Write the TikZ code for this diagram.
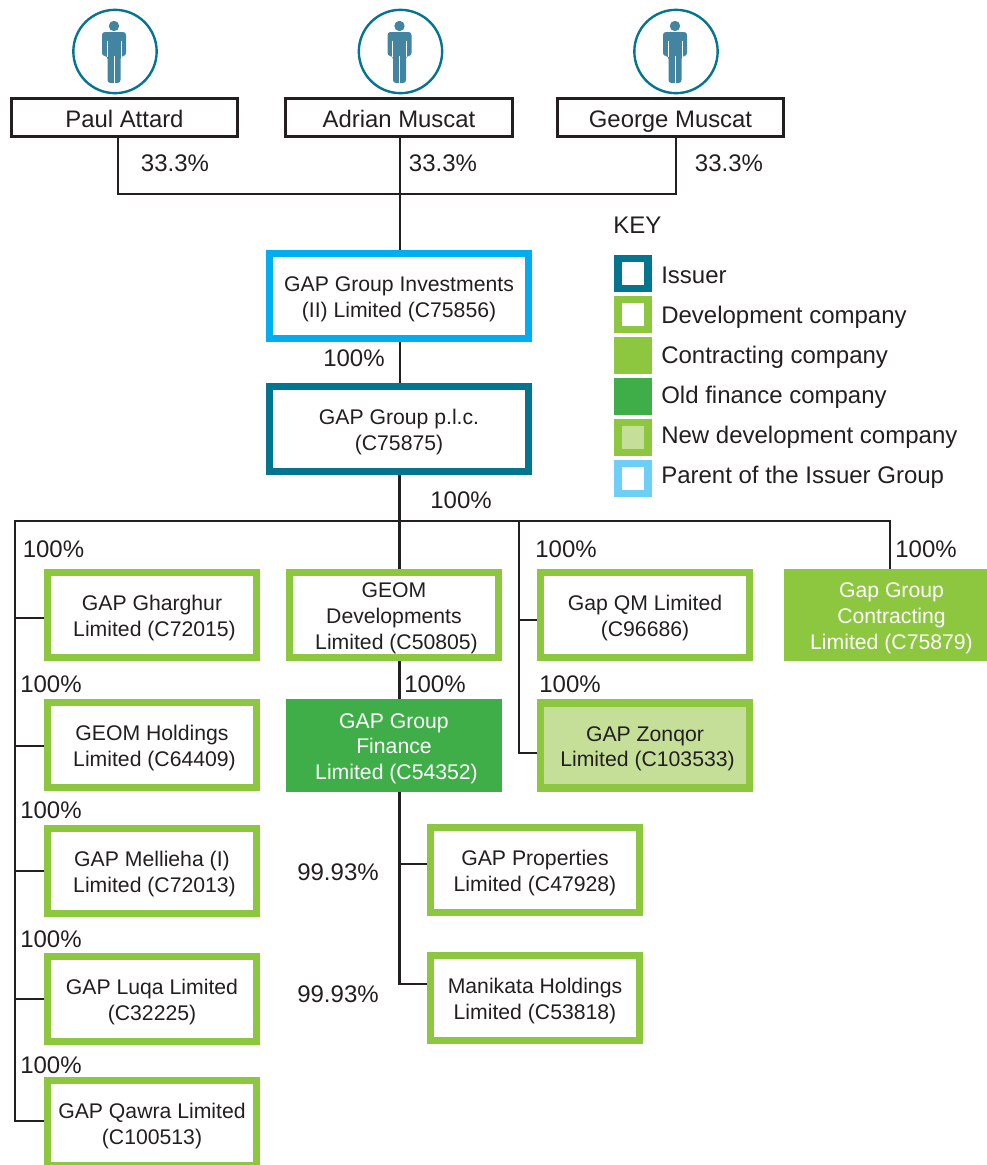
\documentclass[tikz,border=0pt]{standalone}
\usepackage{fontspec}
\setmainfont{Liberation Sans}
\definecolor{ink}{HTML}{231F20}
\definecolor{issuerc}{HTML}{04758E}
\definecolor{parentc}{HTML}{00AEEF}
\definecolor{parentk}{HTML}{6DCFF6}
\definecolor{devc}{HTML}{8DC63F}
\definecolor{oldc}{HTML}{3FAE49}
\definecolor{newc}{HTML}{C5DE98}
\definecolor{personc}{HTML}{4384A0}
\newcommand{\nudge}{\hspace*{3.8pt}}
\newcommand{\nudgeb}{\hspace*{9pt}}
\newcommand{\fl}{\rule{0pt}{16pt}}
\tikzset{
  line/.style={draw=ink,line width=2.2pt},
  cotext/.style={text=ink,font=\fontsize{15.9}{19.2}\selectfont,align=center,inner sep=0pt},
  ownerbox/.style={text=ink,font=\fontsize{17.9}{21}\selectfont,inner sep=0pt,draw=ink,fill=white,line width=2.2pt,minimum width=170pt,minimum height=28.5pt,text height=17.5pt,text depth=1.8pt},
  cobox/.style={cotext,line width=5.6pt,minimum width=156.4pt,minimum height=63.4pt,fill=white},
  devbox/.style={cobox,draw=devc},
  topbox/.style={cobox,minimum width=193.9pt},
  contractbox/.style={cotext,fill=devc,text=white,minimum width=152.25pt,minimum height=69pt},
  financebox/.style={cotext,fill=oldc,text=white,minimum width=162pt,minimum height=69.75pt},
  newbox/.style={cobox,draw=devc,fill=newc,minimum height=64pt},
  pct/.style={text=ink,font=\fontsize{18}{21}\selectfont,inner sep=0pt},
  keylabel/.style={text=ink,font=\fontsize{18}{21}\selectfont,inner sep=0pt,anchor=base west},
  keybox/.style={line width=5.6pt,minimum width=22.5pt,minimum height=22.5pt,inner sep=0pt,fill=white},
  personring/.style={circle,draw=issuerc,line width=1.8pt,minimum size=62.5pt,inner sep=0pt},
  pics/person/.style={code={
    \fill[personc] (-1,-25.5) circle[radius=5.2];
    \fill[personc,rounded corners=2.2pt] (-13,-19.5) -- (11,-19.5) -- (11,4.5) -- (8.5,4.5) -- (5.5,4.5) -- (5.5,31.5) -- (-7.5,31.5) -- (-7.5,4.5) -- (-13,4.5) -- cycle;
    \draw[white,line width=.6pt] (-1,4) -- (-1,32);
    \draw[white,line width=.6pt] (-8,-11) -- (-8,5) (6,-11) -- (6,5);
  }}
}
\begin{document}
\begin{tikzpicture}[x=.75pt,y=-.75pt]
\useasboundingbox (0,0) rectangle (987,1165);

% people
\node[personring] (ringA) at (115,51.5) {};
\node[personring] (ringB) at (400.5,51.5) {};
\node[personring] (ringC) at (676,51.5) {};
\pic at (ringA.center) {person};
\pic at (ringB.center) {person};
\pic at (ringC.center) {person};

% junction coordinates
\coordinate (ownerL) at (118,194);
\coordinate (ownerM) at (400,194);
\coordinate (ownerR) at (676,194);
\coordinate (busW) at (15,521);
\coordinate (busM) at (399.5,521);
\coordinate (busQ) at (519,521);
\coordinate (busE) at (890,521);
\coordinate (leftEnd) at (15,1121);
\coordinate (zonqorTurn) at (519,753);

\node[ownerbox] (paul) at (124.5,117.5) {Paul Attard};
\node[ownerbox] (adrian) at (399,117.5) {Adrian Muscat};
\node[ownerbox] (george) at (670.5,117.5) {George Muscat};

\node[topbox,draw=parentc] (parent) at (399,296) {\fl GAP Group Investments\\(II) Limited (C75856)};
\node[topbox,draw=issuerc] (plc) at (399,429) {\fl GAP Group p.l.c.\\(C75875)};

\node[devbox] (gharghur) at (152,615) {\fl GAP Gharghur\\\nudge Limited (C72015)};
\node[devbox] (holdings) at (152,745) {\fl GEOM Holdings\\\nudge Limited (C64409)};
\node[devbox] (mellieha) at (152,871) {\fl GAP Mellieha (I)\\\nudge Limited (C72013)};
\node[devbox] (luqa) at (152,999) {\fl GAP Luqa Limited\\(C32225)};
\node[devbox] (qawra) at (152,1123) {\fl GAP Qawra Limited\\(C100513)};
\node[devbox] (geomdev) at (394,615) {\fl GEOM\\Developments\\\nudge Limited (C50805)};
\node[financebox] (finance) at (394,745.5) {\fl GAP Group\\Finance\\\nudge Limited (C54352)};
\node[devbox] (qm) at (645,615) {\fl Gap QM Limited\\(C96686)};
\node[newbox] (zonqor) at (645,745.5) {\fl GAP Zonqor\\\nudge Limited (C103533)};
\node[contractbox] (contract) at (885.5,615) {\fl\nudgeb Gap Group\\\nudgeb Contracting\\\nudgeb Limited (C75879)};
\node[devbox] (properties) at (535,870) {\fl GAP Properties\\Limited (C47928)};
\node[devbox] (manikata) at (535,998) {\fl Manikata Holdings\\Limited (C53818)};

% owner connectors
\draw[line] (paul.south -| ownerL) -- (ownerL) -- (ownerR) -- (george.south -| ownerR);
\draw[line] (adrian.south -| ownerM) -- (parent.north -| ownerM);
\draw[line] (parent.south -| ownerM) -- (plc.north -| ownerM);
\draw[line] (plc.south -| busM) -- (busM);
% group bus
\draw[line,line cap=rect] (leftEnd) -- (busW) -- (busE);
\draw[line] (busE) -- (contract.north -| busE);
\draw[line] (busM) -- (geomdev.north -| busM);
\draw[line] (geomdev.south -| busM) -- (finance.north -| busM);
\draw[line] (busQ) -- (zonqorTurn) -- (zonqor.west |- zonqorTurn);
\draw[line] (busQ |- 0,620) -- (qm.west |- 0,620);
% left column branches
\draw[line] (busW |- 0,618) -- (gharghur.west |- 0,618);
\draw[line] (busW |- 0,746) -- (holdings.west |- 0,746);
\draw[line] (busW |- 0,871) -- (mellieha.west |- 0,871);
\draw[line] (busW |- 0,999) -- (luqa.west |- 0,999);
\draw[line] (leftEnd) -- (qawra.west |- leftEnd);
% finance subsidiaries
\draw[line] (finance.south -| busM) -- (busM |- 0,984) -- (manikata.west |- 0,984);
\draw[line] (busM |- 0,864) -- (properties.west |- 0,864);

% percentages
\node[pct] (p1) at (175,163) {33.3\%};
\node[pct] (p2) at (443,163) {33.3\%};
\node[pct] (p3) at (729,163) {33.3\%};
\node[pct] (p4) at (354,358) {100\%};
\node[pct] (p5) at (461,500) {100\%};
\node[pct] (p6) at (53.5,549) {100\%};
\node[pct] (p7) at (51,684) {100\%};
\node[pct] (p8) at (51,810) {100\%};
\node[pct] (p9) at (51,939) {100\%};
\node[pct] (p10) at (51,1065) {100\%};
\node[pct] (p11) at (566,549) {100\%};
\node[pct] (p12) at (570,684) {100\%};
\node[pct] (p13) at (926,549) {100\%};
\node[pct] (p14) at (435,684) {100\%};
\node[pct] (p15) at (338,872) {99.93\%};
\node[pct] (p16) at (338,994) {99.93\%};

% key
\node[keylabel] (keyhead) at (613,233.5) {KEY};
\node[keybox,draw=issuerc] (k1) at (633,273.5) {};
\node[keybox,draw=devc] (k2) at (633,314.5) {};
\node[keybox,draw=devc,fill=devc] (k3) at (633,355.5) {};
\node[keybox,draw=oldc,fill=oldc] (k4) at (633,396.5) {};
\node[keybox,draw=devc,fill=newc] (k5) at (633,437.5) {};
\node[keybox,draw=parentk] (k6) at (633,478.5) {};
\node[keylabel] (l1) at (661,283) {Issuer};
\node[keylabel] (l2) at (661,323) {Development company};
\node[keylabel] (l3) at (661,363) {Contracting company};
\node[keylabel] (l4) at (661,403) {Old finance company};
\node[keylabel] (l5) at (661,443) {New development company};
\node[keylabel] (l6) at (661,483) {Parent of the Issuer Group};
\end{tikzpicture}
\end{document}
